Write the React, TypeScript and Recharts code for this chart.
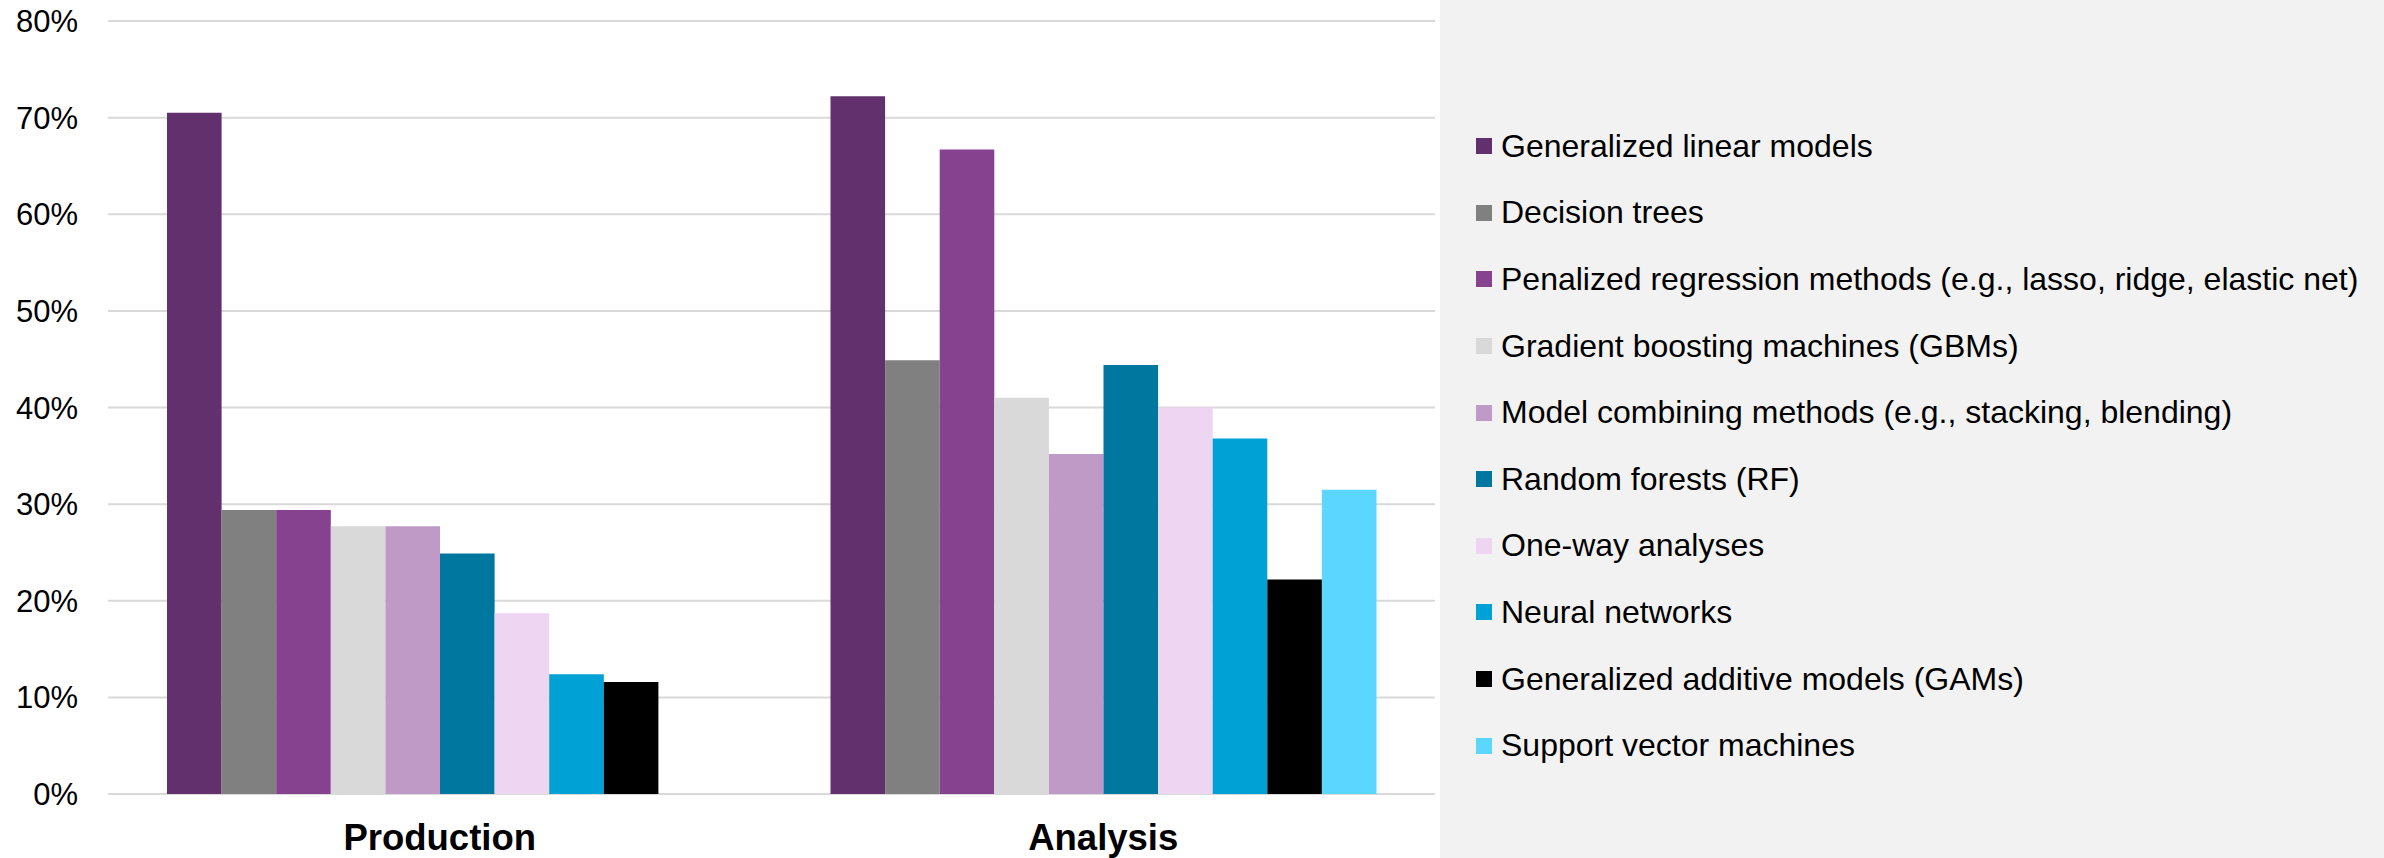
import React from 'react';
import { BarChart, Bar, XAxis, YAxis, CartesianGrid } from 'recharts';

const categories = ['Production', 'Analysis'];

const seriesNames = [
  'Generalized linear models',
  'Decision trees',
  'Penalized regression methods (e.g., lasso, ridge, elastic net)',
  'Gradient boosting machines (GBMs)',
  'Model combining methods (e.g., stacking, blending)',
  'Random forests (RF)',
  'One-way analyses',
  'Neural networks',
  'Generalized additive models (GAMs)',
  'Support vector machines',
];

const seriesColors = [
  '#63306E',
  '#808080',
  '#86418F',
  '#D9D9D9',
  '#C09AC6',
  '#00779E',
  '#EED5F2',
  '#00A1D4',
  '#000000',
  '#5BD6FE',
];

// percent values, [Production, Analysis]
const glm = [70.5, 72.2];
const decisionTrees = [29.4, 44.9];
const penalized = [29.4, 66.7];
const gbm = [27.7, 41.0];
const modelCombining = [27.7, 35.2];
const randomForests = [24.9, 44.4];
const oneWay = [18.7, 40.0];
const neuralNets = [12.4, 36.8];
const gam = [11.6, 22.2];
const svm = [null, 31.5];

const seriesValues = [glm, decisionTrees, penalized, gbm, modelCombining, randomForests, oneWay, neuralNets, gam, svm];

const yTicks = [0, 10, 20, 30, 40, 50, 60, 70, 80];

const chartData = categories.map((name, ci) => {
  const row: Record<string, any> = { name };
  seriesValues.forEach((vals, si) => {
    row[`s${si}`] = vals[ci];
  });
  return row;
});

const FONT = '"Liberation Sans", Arial, sans-serif';

export default function App() {
  return (
    <div style={{ position: 'relative', width: 2384, height: 858, background: '#FFFFFF', fontFamily: FONT }}>
      <style>{'body{margin:0}'}</style>
      <div style={{ position: 'absolute', left: 1440, top: 0, width: 944, height: 858, background: '#F2F2F2' }} />
      <div style={{ position: 'absolute', left: 0, top: 0 }}>
        <BarChart
          width={1435}
          height={858}
          data={chartData}
          margin={{ top: 21, right: 0, left: 0, bottom: 0 }}
          barSize={54.6}
          barGap={0}
        >
          <CartesianGrid vertical={false} stroke="#D9D9D9" strokeWidth={2} />
          <XAxis
            dataKey="name"
            height={64}
            axisLine={false}
            tickLine={false}
            tickSize={0}
            tickMargin={30}
            tick={{ fontSize: 36.5, fontWeight: 'bold', fill: '#000', fontFamily: FONT }}
          />
          <YAxis
            width={108}
            domain={[0, 80]}
            ticks={yTicks}
            tickFormatter={(v: number) => `${v}%`}
            axisLine={false}
            tickLine={false}
            tickSize={6}
            tickMargin={24}
            tick={{ fontSize: 31, fill: '#000', fontFamily: FONT }}
          />
          {seriesNames.map((n, i) => (
            <Bar key={n} dataKey={`s${i}`} name={n} fill={seriesColors[i]} isAnimationActive={false} />
          ))}
        </BarChart>
      </div>
      <div style={{ position: 'absolute', left: 1476, top: 113 }}>
        {seriesNames.map((n, i) => (
          <div key={n} style={{ display: 'flex', alignItems: 'center', height: 66.6, whiteSpace: 'nowrap' }}>
            <div style={{ width: 16, height: 16, background: seriesColors[i], marginRight: 9, flexShrink: 0 }} />
            <span style={{ fontSize: 32, color: '#000', fontFamily: FONT }}>{n}</span>
          </div>
        ))}
      </div>
    </div>
  );
}
